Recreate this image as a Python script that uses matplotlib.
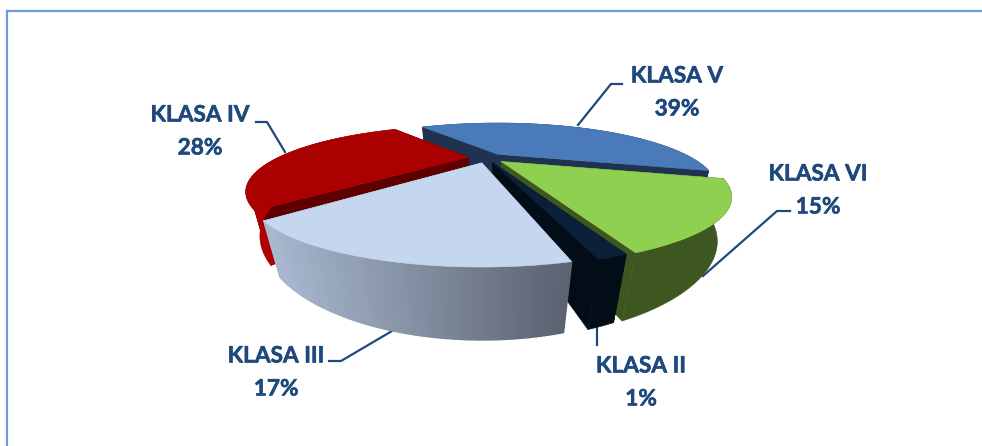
import numpy as np
import matplotlib
matplotlib.use("Agg")
import matplotlib.pyplot as plt
import matplotlib.patheffects as pe
from matplotlib.patches import Polygon
from matplotlib.collections import PolyCollection

categories = ["KLASA V", "KLASA VI", "KLASA II", "KLASA III", "KLASA IV"]
shares = [39, 15, 1, 17, 28]

top_colors = ["#4a7aba", "#8fd050", "#0b2038", "#c5d7ef", "#aa0000"]
wall_colors = ["#1f3350", "#3e5720", "#030d18", "#8a96a8", "#5e0000"]
arc_left = ["#1f3350", "#3e5720", "#030d18", "#a9b9d0", "#b00000"]
arc_right = ["#1f3350", "#3e5720", "#030d18", "#5a6170", "#b00000"]
radius_scale = [0.95, 1.0, 1.0, 1.0, 0.965]
trim_start = [-1.5, 0.0, -1.2, 2.5, 0.0]   # degrees, layout nudges of each cut
trim_end = [0.0, -1.4, 0.0, -2.0, 0.0]
draw_order = [0, 4, 1, 2, 3]

label_xy = [(677, 76), (818, 174), (641, 366), (276, 356), (200, 115)]
leaders = [
    [(622, 84), (611, 84), (578, 125)],
    [(790, 211), (777, 211), (703, 276)],
    [(597, 328), (597, 345)],
    [(329, 361), (341, 361), (392, 331)],
    [(256, 122), (267, 122), (285, 152)],
]

CX, CY, RX, RY, K, H, YV, EXPLODE, START = 487, 158, 197, 50, 0.52, 35, 1000, 0.096, -33.5
TEXT = "#1f497d"


def project(u, v, px, py, z=0.0, r=1.0):
    """Perspective projection of a disc point, relative to the slice's apex (px, py).
    Verticals converge on a point straight below the pie at y = YV."""
    s = 1.0 / (1.0 - K * v)
    x = px + RX * r * u * s
    y = py + RY * r * v * s
    dy = z * H * s
    return x + (CX - x) * dy / (YV - y), y + dy


fig = plt.figure(figsize=(9.82, 4.46), dpi=100, facecolor="white")
ax = fig.add_axes([0, 0, 1, 1])
ax.set_xlim(0, 982)
ax.set_ylim(446, 0)
ax.axis("off")

ax.plot([7, 7, 982], [446, 11, 11], color="#6a9ae0", lw=1.6, solid_joinstyle="miter", zorder=1)

sweeps = 360.0 * np.array(shares) / np.sum(shares)
starts = START + np.concatenate([[0], np.cumsum(sweeps)[:-1]])

z = 2
for i in draw_order:
    a0 = np.radians(starts[i] + trim_start[i])
    a1 = np.radians(starts[i] + sweeps[i] + trim_end[i])
    mid = np.radians(starts[i] + sweeps[i] / 2)
    du, dv = EXPLODE * np.sin(mid), -EXPLODE * np.cos(mid)
    px, py = project(du, dv, CX, CY, 0)
    th = np.linspace(a0, a1, 90)
    u = np.sin(th)
    v = -np.cos(th)
    r = radius_scale[i]
    xt, yt = project(u, v, px, py, 0, r)
    xb, yb = project(u, v, px, py, 1, r)
    bx0, by0 = project(0.0, 0.0, px, py, 1, r)

    for j in (0, -1):
        ax.add_patch(Polygon([(px, py), (xt[j], yt[j]), (xb[j], yb[j]), (bx0, by0)],
                             closed=True, fc=wall_colors[i], ec=wall_colors[i], lw=0.4, zorder=z))
    if categories[i] == "KLASA IV":
        # outer part of the front cut face catches the light, below the dark band
        f0 = 0.25
        tx, ty = xt[0] + (xb[0] - xt[0]) * f0, yt[0] + (yb[0] - yt[0]) * f0
        ix, iy = xb[0] + (bx0 - xb[0]) * 0.2, yb[0] + (by0 - yb[0]) * 0.2
        ax.add_patch(Polygon([(tx, ty), (xb[0], yb[0]), (ix, iy), (tx + 20, ty + 4)],
                             closed=True, fc=arc_left[i], ec=arc_left[i], lw=0.4, zorder=z))
    z += 1

    if arc_left[i] == arc_right[i]:
        ax.add_patch(Polygon(np.column_stack([np.r_[xt, xb[::-1]], np.r_[yt, yb[::-1]]]), closed=True,
                             fc=arc_left[i], ec=arc_left[i], lw=0.4, zorder=z))
    else:
        c0 = np.array(matplotlib.colors.to_rgb(arc_left[i]))
        c1 = np.array(matplotlib.colors.to_rgb(arc_right[i]))
        lo, hi = xt.min(), xt.max()
        quads, cols = [], []
        for j in range(len(th) - 1):
            quads.append([(xt[j], yt[j]), (xt[j + 1], yt[j + 1]), (xb[j + 1], yb[j + 1]), (xb[j], yb[j])])
            t = (0.5 * (xt[j] + xt[j + 1]) - lo) / max(hi - lo, 1)
            cols.append(c0 + (c1 - c0) * t)
        ax.add_collection(PolyCollection(quads, facecolors=cols, edgecolors=cols, linewidths=1.0, zorder=z))
    z += 1

    ax.add_patch(Polygon(np.column_stack([np.r_[px, xt], np.r_[py, yt]]), closed=True,
                         fc=top_colors[i], ec=top_colors[i], lw=0.4, zorder=z))
    z += 1

for pts in leaders:
    ax.plot(*zip(*pts), color=TEXT, lw=1.6, zorder=1.5, solid_joinstyle="miter")

stroke = [pe.withStroke(linewidth=0.4, foreground=TEXT)]
for name, pct, (x, y) in zip(categories, shares, label_xy):
    ax.text(x, y, name, color=TEXT, fontsize=16.3, fontweight="bold", family="Lato",
            ha="center", va="center", zorder=z + 1, path_effects=stroke)
    ax.text(x, y + 33, f"{pct}%", color=TEXT, fontsize=16.3, fontweight="bold", family="Lato",
            ha="center", va="center", zorder=z + 1, path_effects=stroke)

fig.savefig("out.png", dpi=100, facecolor="white")
